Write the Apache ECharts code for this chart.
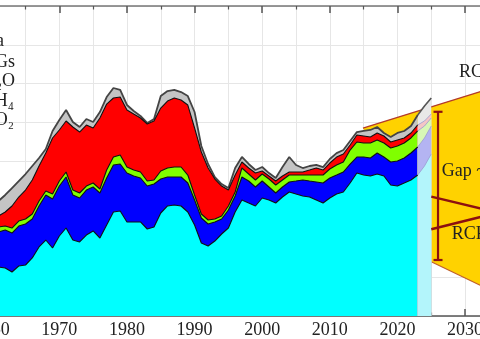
<!DOCTYPE html>
<html><head><meta charset="utf-8">
<script src="https://cdn.jsdelivr.net/npm/echarts@6/dist/echarts.min.js"></script>
<style>
html,body{margin:0;padding:0;overflow:hidden;background:#fff;width:480px;height:339px}
#c{position:absolute;left:-60px;top:0;width:700px;height:339px}
</style>
</head><body><div id="c"></div>
<script>
// ---- data (units: 0.001 W/m²/yr) ----
const years = [1960,1961,1962,1963,1964,1965,1966,1967,1968,1969,
  1970,1971,1972,1973,1974,1975,1976,1977,1978,1979,
  1980,1981,1982,1983,1984,1985,1986,1987,1988,1989,
  1990,1991,1992,1993,1994,1995,1996,1997,1998,1999,
  2000,2001,2002,2003,2004,2005,2006,2007,2008,2009,
  2010,2011,2012,2013,2014,2015,2016,2017,2018,2019,
  2020,2021,2022,2023];
const co2 = [13.16,12.65,12.39,11.35,12.90,13.16,14.97,17.81,19.61,17.55,
  20.65,22.71,19.61,19.10,20.90,21.94,20.13,23.48,26.84,27.10,
  24.26,24.26,24.26,22.45,22.97,26.58,28.39,28.65,28.39,26.84,
  23.48,18.84,18.06,19.35,21.16,22.71,26.84,29.94,29.16,28.39,
  30.45,29.94,29.16,30.71,32.00,31.48,30.97,30.71,29.94,29.16,
  30.45,31.48,32.00,34.32,36.90,36.39,36.13,36.65,36.13,33.81,
  33.55,34.32,35.10,36.39];
const ch4 = [8.26,9.03,9.81,10.06,10.32,10.58,10.06,10.58,11.61,12.65,
  12.90,13.16,11.61,11.35,11.61,11.35,11.61,12.13,12.13,12.13,
  12.65,11.87,11.35,11.10,11.10,8.77,7.48,7.23,7.48,7.48,
  6.45,6.45,5.68,4.90,3.87,4.65,4.13,5.94,5.68,4.90,
  4.39,3.35,2.58,2.58,2.58,3.35,4.13,4.13,4.65,5.16,
  5.16,4.90,5.16,4.90,4.13,4.65,4.65,5.42,4.90,5.94,
  6.45,6.45,6.97,7.23];
const n2o = [1.03,1.29,1.03,1.29,1.29,1.29,1.29,1.29,1.03,1.29,
  1.29,1.29,1.29,1.29,1.03,1.03,1.03,2.06,2.06,2.32,
  1.55,1.55,1.55,1.29,1.03,2.06,2.32,2.58,2.58,2.06,
  1.29,1.03,1.03,0.77,0.77,1.03,1.03,2.32,1.81,1.81,
  1.81,2.06,2.06,1.81,1.81,1.55,1.29,1.55,1.81,2.06,
  2.32,2.58,2.58,3.61,3.87,3.61,3.87,3.35,3.61,3.61,
  3.87,3.87,3.87,4.13];
const mptgs = [2.84,2.84,3.61,5.68,6.19,7.48,8.77,9.03,9.81,14.45,
  13.16,13.16,16.26,15.74,15.74,14.19,18.32,17.03,15.23,14.97,
  14.71,14.45,13.94,14.71,15.23,16.26,17.29,17.81,17.29,18.06,
  17.29,16.00,13.42,10.32,7.74,4.13,4.39,1.55,1.55,1.81,
  0.77,0.77,1.03,1.03,0.77,0.77,0.77,1.29,1.81,1.29,
  1.55,2.06,2.06,1.29,1.81,1.81,1.55,1.81,1.81,1.55,
  1.55,1.29,1.29,1.55];
const otgs = [3.35,3.87,4.39,4.65,4.13,4.13,3.61,2.06,1.03,1.81,
  2.58,2.84,1.29,1.29,1.55,1.55,1.55,1.81,2.58,1.81,
  1.29,0.77,0.52,0.26,0.52,3.10,2.58,2.06,2.06,2.32,
  4.13,1.55,1.03,0.52,0.52,0.52,1.81,1.29,1.03,0.77,
  1.03,0.77,0.77,2.32,3.87,1.81,1.03,1.03,0.77,0.77,
  1.03,1.03,1.03,1.03,0.77,1.29,1.81,1.55,0.77,1.29,
  1.81,1.81,1.81,2.58];
// preliminary / extended years
const extYears = [2023,2024,2025];
const extCo2 = [36.39,38.71,41.81];
const extCh4 = [7.23,7.23,7.23];
const extN2o = [4.13,3.10,2.06];
const extMptgs = [1.55,1.29,1.03];
const extOtgs = [2.58,3.87,4.13];
// scenario envelope and lines
const envTopYears = [2014.9,2040];
const envTopVals = [48.5,62.1];
const envBotYears = [2025,2040];
const envBotVals = [14.0,1.4];
const scenYears = [2025,2040];
const scenA = [30.8,24.5];
const scenB = [22.4,28.9];
const gapYear = 2026;
const gapRange = [14.45,52.7];
const legendLabels = ['Preliminary Data','MPTGs','N\u2082O','CH\u2084','CO\u2082'];
const noteLabels = ['RCP8.5','Gap ~ 0.03','RCP4.5'];

const FONT = '"Liberation Serif", "Times New Roman", serif';

const layers = [
  {name:'CO\u2082', main:co2, ext:extCo2, color:'#00ffff', ext_c:'#b3f5fb'},
  {name:'CH\u2084', main:ch4, ext:extCh4, color:'#0000ff', ext_c:'#b4b4f2'},
  {name:'N\u2082O', main:n2o, ext:extN2o, color:'#80ff00', ext_c:'#d8f8b6'},
  {name:'MPTGs', main:mptgs, ext:extMptgs, color:'#ff0000', ext_c:'#f5c6c6'},
  {name:'OTGs', main:otgs, ext:extOtgs, color:'#c4c4c4', ext_c:'#e8e8e8'}
];
// cumulative tops (stacking table for the library)
function cumulate(key, xs) {
  const acc = xs.map(() => 0);
  return layers.map(L => L[key].map((v, i) => { acc[i] += v; return [xs[i], +acc[i].toFixed(3)]; }));
}
const mainTops = cumulate('main', years);
const extTops = cumulate('ext', extYears);

const series = [];
series.push({
  type:'custom', z:1, silent:true, data:[[2030, 30]],
  renderItem:(p, api) => {
    const a = api.coord([envTopYears[0], envTopVals[0]]);
    const b = api.coord([envTopYears[1], envTopVals[1]]);
    const c = api.coord([envBotYears[1], envBotVals[1]]);
    const d = api.coord([envBotYears[0], envBotVals[0]]);
    return {type:'group', children:[
      {type:'polygon', shape:{points:[a,b,c,d]}, style:{fill:'#ffd200'}},
      {type:'polyline', shape:{points:[a,b]}, style:{stroke:'#b33a2a', lineWidth:1.2, fill:null}},
      {type:'polyline', shape:{points:[d,c]}, style:{stroke:'#c0602a', lineWidth:1.2, fill:null}}
    ]};
  }
});
// draw from the top layer down so lower layers paint over
for (let i = layers.length - 1; i >= 0; i--) {
  const L = layers[i], top = i === layers.length - 1;
  series.push({
    name:L.name, type:'line', z:2, data:mainTops[i],
    showSymbol:false, symbol:'none', smooth:false,
    lineStyle:{color: top ? '#444' : '#111', width: top ? 1.8 : 1.1},
    areaStyle:{color:L.color, opacity:1, origin:'start'}
  });
}
for (let i = layers.length - 1; i >= 0; i--) {
  const L = layers[i], top = i === layers.length - 1;
  series.push({
    name:L.name + ' ext', type:'line', z:2, data:extTops[i],
    showSymbol:false, symbol:'none',
    lineStyle:{color: top ? '#555' : '#9a9ad0', width: top ? 1.6 : 0.8},
    areaStyle:{color:L.ext_c, opacity:1, origin:'start'}
  });
}
[scenA, scenB].forEach(s => series.push({
  type:'line', z:3, data:scenYears.map((x, i) => [x, s[i]]), showSymbol:false, symbol:'none',
  lineStyle:{color:'#8c1010', width:2.5}
}));
series.push({
  type:'custom', z:4, silent:true, data:[[gapYear, gapRange[0], gapRange[1]]],
  renderItem:(p, api) => {
    const lo = api.coord([api.value(0), api.value(1)]);
    const hi = api.coord([api.value(0), api.value(2)]);
    const st = {stroke:'#8c1010', lineWidth:2.2};
    return {type:'group', children:[
      {type:'line', shape:{x1:lo[0], y1:lo[1], x2:hi[0], y2:hi[1]}, style:st},
      {type:'line', shape:{x1:hi[0]-4.5, y1:hi[1], x2:hi[0]+4.5, y2:hi[1]}, style:st},
      {type:'line', shape:{x1:lo[0]-4.5, y1:lo[1], x2:lo[0]+4.5, y2:lo[1]}, style:st}
    ]};
  }
});

const grid = {left:51.7, right:107.3, top:6, bottom:23, outerBoundsMode:'none', containLabel:false};
const tickCol = '#555';
const option = {
  animation:false,
  backgroundColor:'#fff',
  grid,
  xAxis:[{
    type:'value', min:1960, max:2040, interval:10, position:'bottom',
    axisLine:{show:true, onZero:false, lineStyle:{color:tickCol, width:1.5}},
    axisTick:{show:true, inside:true, length:7, lineStyle:{color:tickCol, width:1.5}},
    minorTick:{show:true, splitNumber:2, length:3.5, lineStyle:{color:tickCol, width:1.2}},
    axisLabel:{show:true, margin:5, color:'#222', fontFamily:FONT, fontSize:18, formatter:v => String(v)},
    splitLine:{show:true, lineStyle:{color:'#e6e6e6', width:1}},
    minorSplitLine:{show:true, lineStyle:{color:'#e6e6e6', width:1}}
  },{
    type:'value', min:1960, max:2040, interval:10, position:'top',
    axisLine:{show:true, onZero:false, lineStyle:{color:'#777', width:1.5}},
    axisTick:{show:true, inside:true, length:7, lineStyle:{color:tickCol, width:1.5}},
    minorTick:{show:true, splitNumber:2, length:3.5, lineStyle:{color:tickCol, width:1.2}},
    axisLabel:{show:false}, splitLine:{show:false}
  }],
  yAxis:{
    type:'value', min:0, max:80, interval:10,
    axisLine:{show:false}, axisTick:{show:false}, axisLabel:{show:false},
    splitLine:{show:true, lineStyle:{color:'#e6e6e6', width:1}}
  },
  series,
  graphic:[
    ...legendLabels.map((t, i) => ({
      type:'text', x:[64,75,75,74,74][i], y:[41.7,62.7,81.7,101.7,120.5][i], z:10,
      style:{text:t, textAlign:'right', textVerticalAlign:'middle', fill:'#222', font:'18px ' + FONT}
    })),
    ...noteLabels.map((t, i) => ({
      type:'text', x:[519,501.7,511.7][i], y:[72,171.7,234][i], z:10,
      style:{text:t, textAlign:'left', textVerticalAlign:'middle', fill:'#222', font:'18px ' + FONT}
    }))
  ]
};
const chart = echarts.init(document.getElementById('c'), null, {renderer:'canvas'});
chart.setOption(option);
</script>
</body></html>
